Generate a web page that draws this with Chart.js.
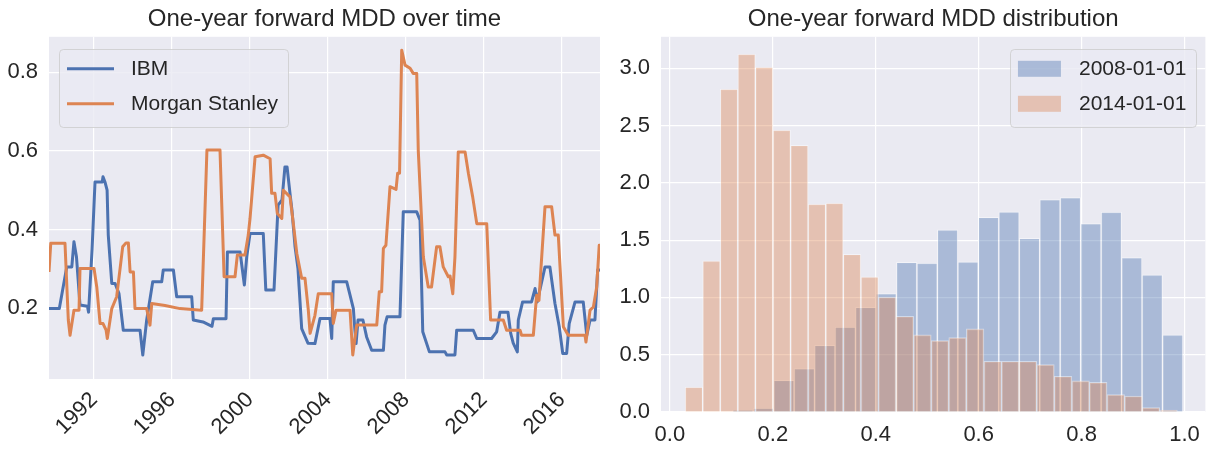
<!DOCTYPE html>
<html lang="en">

<head>
    <meta charset="UTF-8">
    <title>One-year forward MDD</title>
    <script src="https://cdn.jsdelivr.net/npm/chart.js@4.4.1/dist/chart.umd.min.js"></script>
    <style>
        body { margin: 0; background: #fff; }
        .panel { position: absolute; top: 0; height: 449px; }
        #left { left: 0; width: 610px; }
        #right { left: 610px; width: 600px; }
    </style>
</head>

<body>
    <div class="panel" id="left"><canvas id="mddTime"></canvas></div>
    <div class="panel" id="right"><canvas id="mddHist"></canvas></div>

    <script>
    // ---- data ----
    // left: one-year forward MDD, x in decimal years
    var IBM_YEARS = [1989.69, 1990.22, 1990.60, 1990.86, 1990.97, 1991.10, 1991.28, 1991.66, 1991.72, 1991.90,
        1992.05, 1992.42, 1992.46, 1992.56, 1992.67, 1992.73, 1992.91, 1993.08, 1993.28, 1993.50,
        1994.36, 1994.50, 1994.70, 1995.01, 1995.47, 1995.55, 1996.07, 1996.24, 1997.01, 1997.09,
        1997.59, 1998.05, 1998.12, 1998.77, 1998.84, 1999.49, 1999.71, 1999.83, 2000.00, 2000.68,
        2000.81, 2001.23, 2001.44, 2001.64, 2001.79, 2001.90, 2002.05, 2002.15, 2002.31, 2002.46,
        2002.65, 2002.97, 2003.33, 2003.59, 2004.10, 2004.19, 2004.27, 2004.96, 2005.13, 2005.30,
        2005.38, 2005.44, 2005.54, 2005.79, 2005.98, 2006.24, 2006.84, 2006.92, 2007.03, 2007.69,
        2007.86, 2008.55, 2008.72, 2008.86, 2009.20, 2010.00, 2010.09, 2010.51, 2010.60, 2011.45,
        2011.63, 2012.39, 2012.65, 2012.82, 2013.23, 2013.37, 2013.50, 2013.71, 2013.76, 2013.98,
        2014.44, 2014.62, 2014.73, 2015.13, 2015.38, 2015.64, 2015.86, 2016.04, 2016.24, 2016.37,
        2016.67, 2017.09, 2017.27, 2017.44, 2017.69, 2017.83, 2017.95];
    var IBM_MDD = [0.199, 0.199, 0.305, 0.305, 0.369, 0.330, 0.208, 0.205, 0.190, 0.350,
        0.521, 0.521, 0.534, 0.521, 0.500, 0.386, 0.263, 0.263, 0.237, 0.144,
        0.144, 0.081, 0.170, 0.267, 0.267, 0.297, 0.297, 0.229, 0.229, 0.170,
        0.165, 0.154, 0.173, 0.173, 0.343, 0.343, 0.259, 0.330, 0.390, 0.390,
        0.246, 0.246, 0.462, 0.475, 0.559, 0.559, 0.492, 0.450, 0.356, 0.300,
        0.148, 0.111, 0.110, 0.174, 0.174, 0.123, 0.267, 0.267, 0.233, 0.199,
        0.144, 0.110, 0.170, 0.170, 0.127, 0.093, 0.093, 0.157, 0.178, 0.178,
        0.445, 0.445, 0.424, 0.140, 0.089, 0.089, 0.081, 0.081, 0.144, 0.144,
        0.123, 0.123, 0.140, 0.190, 0.190, 0.136, 0.111, 0.089, 0.170, 0.216,
        0.216, 0.250, 0.216, 0.305, 0.305, 0.212, 0.153, 0.085, 0.085, 0.161,
        0.216, 0.216, 0.131, 0.170, 0.170, 0.297, 0.297];

    var MS_YEARS = [1989.69, 1989.78, 1990.51, 1990.68, 1990.77, 1990.97, 1991.23, 1991.28, 1992.00, 1992.14,
        1992.31, 1992.46, 1992.62, 1992.68, 1992.91, 1993.16, 1993.47, 1993.64, 1993.76, 1993.85,
        1994.02, 1994.10, 1994.70, 1994.87, 1994.96, 1995.64, 1996.41, 1997.52, 1997.69, 1997.79,
        1998.46, 1998.56, 1998.67, 1999.23, 1999.35, 1999.74, 1999.91, 2000.00, 2000.26, 2000.68,
        2001.03, 2001.11, 2001.28, 2001.40, 2001.63, 2001.71, 2002.05, 2002.21, 2002.40, 2002.65,
        2002.82, 2002.99, 2003.08, 2003.33, 2003.50, 2004.19, 2004.27, 2004.41, 2005.13, 2005.27,
        2005.47, 2006.50, 2006.63, 2006.75, 2006.84, 2006.97, 2007.18, 2007.49, 2007.57, 2007.67,
        2007.78, 2007.95, 2008.21, 2008.37, 2008.55, 2008.63, 2008.89, 2009.14, 2009.31, 2009.57,
        2009.74, 2009.91, 2010.17, 2010.26, 2010.40, 2010.51, 2010.68, 2011.03, 2011.20, 2011.42,
        2011.63, 2012.14, 2012.34, 2012.99, 2013.16, 2013.85, 2013.93, 2014.53, 2014.70, 2014.82,
        2014.92, 2015.13, 2015.47, 2015.64, 2015.81, 2016.07, 2016.32, 2017.18, 2017.23, 2017.44,
        2017.61, 2017.78, 2017.91, 2017.95];
    var MS_MDD = [0.292, 0.365, 0.365, 0.170, 0.131, 0.195, 0.195, 0.301, 0.301, 0.254,
        0.161, 0.161, 0.144, 0.123, 0.199, 0.229, 0.356, 0.366, 0.366, 0.292,
        0.292, 0.199, 0.199, 0.157, 0.212, 0.207, 0.199, 0.195, 0.450, 0.602,
        0.602, 0.450, 0.280, 0.280, 0.335, 0.335, 0.386, 0.428, 0.585, 0.589,
        0.580, 0.492, 0.492, 0.441, 0.428, 0.500, 0.483, 0.420, 0.339, 0.276,
        0.276, 0.195, 0.136, 0.182, 0.237, 0.237, 0.161, 0.195, 0.195, 0.081,
        0.157, 0.157, 0.242, 0.242, 0.352, 0.360, 0.509, 0.502, 0.543, 0.543,
        0.856, 0.818, 0.810, 0.797, 0.797, 0.600, 0.330, 0.254, 0.254, 0.356,
        0.356, 0.305, 0.280, 0.282, 0.237, 0.330, 0.597, 0.597, 0.543, 0.483,
        0.415, 0.415, 0.170, 0.170, 0.144, 0.144, 0.131, 0.131, 0.233, 0.220,
        0.300, 0.458, 0.458, 0.386, 0.386, 0.153, 0.131, 0.131, 0.114, 0.195,
        0.203, 0.254, 0.360, 0.360];

    var YEAR_TICKS = [1992, 1996, 2000, 2004, 2008, 2012, 2016];
    var MDD_TICKS = [0.2, 0.4, 0.6, 0.8];

    // right: histogram densities, equal-width bins over [lo, hi]
    var RANGE_2008 = [0.122, 0.997];
    var DENSITY_2008 = [0.015, 0.035, 0.277, 0.379, 0.583, 0.742, 0.914, 1.034, 1.307, 1.299, 1.590,
        1.310, 1.700, 1.747, 1.517, 1.855, 1.872, 1.645, 1.744, 1.348, 1.197, 0.673];
    var RANGE_2014 = [0.0295, 0.986];
    var DENSITY_2014 = [0.218, 1.319, 2.818, 3.124, 3.011, 2.460, 2.327, 1.814, 1.823, 1.377, 1.179, 1.004,
        0.836, 0.673, 0.623, 0.649, 0.725, 0.443, 0.443, 0.443, 0.414, 0.312, 0.271, 0.259, 0.152,
        0.140, 0.038, 0.017];

    var MDD_BIN_TICKS = [0, 0.2, 0.4, 0.6, 0.8, 1.0];
    var DENSITY_TICKS = [0, 0.5, 1.0, 1.5, 2.0, 2.5, 3.0];

    // ---- helpers ----
    var FONT = '"Liberation Sans", Arial, sans-serif';
    var INK = '#262626';
    Chart.defaults.font.family = FONT;
    Chart.defaults.color = INK;

    function pairs(xs, ys) {
        return xs.map(function(x, i) { return { x: x, y: ys[i] }; });
    }

    function bins(range, heights) {
        var w = (range[1] - range[0]) / heights.length;
        return heights.map(function(h, i) { return { x: range[0] + (i + 0.5) * w, y: h }; });
    }

    function fixedTicks(list) {
        return function(scale) {
            scale.ticks = list.map(function(v) { return { value: v }; });
        };
    }

    // lavender plot face, like seaborn darkgrid
    var plotBg = {
        id: 'plotBg',
        beforeDraw: function(chart) {
            var a = chart.chartArea, ctx = chart.ctx;
            ctx.save();
            ctx.fillStyle = '#EAEAF2';
            ctx.fillRect(a.left, a.top, a.width, a.height);
            ctx.restore();
        }
    };

    // legend drawn in a rounded box inside the plot
    var boxLegend = {
        id: 'boxLegend',
        afterDatasetsDraw: function(chart, args, opts) {
            var ctx = chart.ctx, a = chart.chartArea;
            var sets = chart.data.datasets;
            ctx.save();
            ctx.font = '21px ' + FONT;
            var textW = Math.max.apply(null, sets.map(function(d) { return ctx.measureText(d.label).width; }));
            var w = 8 + opts.keyW + opts.gap + textW + 10;
            var h = 78;
            var x = opts.side === 'left' ? a.left + 10 : a.right - 9 - w;
            var y = a.top + 12;
            ctx.beginPath();
            ctx.roundRect(Math.round(x) + 0.5, Math.round(y) + 0.5, Math.round(w), h, 4);
            ctx.fillStyle = 'rgba(234,234,242,0.8)';
            ctx.fill();
            ctx.strokeStyle = 'rgba(204,204,204,0.8)';
            ctx.lineWidth = 1;
            ctx.stroke();
            sets.forEach(function(d, i) {
                var cy = y + 20 + i * 35;
                var kx = x + 8;
                if (opts.kind === 'line') {
                    ctx.beginPath();
                    ctx.moveTo(kx, cy);
                    ctx.lineTo(kx + opts.keyW, cy);
                    ctx.strokeStyle = d.borderColor;
                    ctx.lineWidth = 3;
                    ctx.stroke();
                } else {
                    ctx.fillStyle = d.backgroundColor;
                    ctx.fillRect(kx, cy - 8, opts.keyW, 16);
                }
                ctx.fillStyle = INK;
                ctx.textBaseline = 'middle';
                ctx.fillText(d.label, kx + opts.keyW + opts.gap, cy);
            });
            ctx.restore();
        }
    };

    var gridStyle = { color: '#ffffff', lineWidth: 1.2, drawTicks: false };

    // ---- left: MDD over time ----
    new Chart(document.getElementById('mddTime'), {
        type: 'line',
        data: {
            datasets: [{
                    label: 'IBM',
                    data: pairs(IBM_YEARS, IBM_MDD),
                    borderColor: '#4C72B0',
                    borderWidth: 3,
                    borderJoinStyle: 'round',
                    pointRadius: 0,
                    order: 1
                },
                {
                    label: 'Morgan Stanley',
                    data: pairs(MS_YEARS, MS_MDD),
                    borderColor: '#DD8452',
                    borderWidth: 3,
                    borderJoinStyle: 'round',
                    pointRadius: 0,
                    order: 0
                }
            ]
        },
        options: {
            responsive: true,
            maintainAspectRatio: false,
            animation: false,
            layout: { padding: { right: 10 } },
            plugins: {
                legend: { display: false },
                tooltip: { enabled: false },
                title: {
                    display: true,
                    text: 'One-year forward MDD over time',
                    fullSize: false,
                    font: { size: 24, weight: 'normal' },
                    padding: { top: 5, bottom: 3 }
                },
                boxLegend: { side: 'left', kind: 'line', keyW: 47, gap: 17 }
            },
            scales: {
                x: {
                    type: 'linear',
                    min: 1989.69,
                    max: 2017.95,
                    afterBuildTicks: fixedTicks(YEAR_TICKS),
                    afterFit: function(s) { s.height = 70; },
                    grid: gridStyle,
                    border: { display: false },
                    ticks: {
                        font: { size: 22 },
                        minRotation: 45,
                        maxRotation: 45,
                        autoSkip: false,
                        padding: 8,
                        callback: function(v) { return String(v); }
                    }
                },
                y: {
                    min: 0.02,
                    max: 0.89,
                    afterBuildTicks: fixedTicks(MDD_TICKS),
                    afterFit: function(s) { s.width = 49; },
                    grid: gridStyle,
                    border: { display: false },
                    ticks: {
                        font: { size: 22 },
                        padding: 11,
                        callback: function(v) { return v.toFixed(1); }
                    }
                }
            }
        },
        plugins: [plotBg, boxLegend]
    });

    // ---- right: MDD distribution ----
    var histBar = {
        grouped: false,
        barPercentage: 1,
        categoryPercentage: 1,
        borderWidth: 1,
        borderColor: 'rgba(255,255,255,0.45)',
        borderSkipped: 'bottom'
    };

    new Chart(document.getElementById('mddHist'), {
        type: 'bar',
        data: {
            datasets: [
                Object.assign({
                    label: '2008-01-01',
                    data: bins(RANGE_2008, DENSITY_2008),
                    xAxisID: 'x',
                    backgroundColor: 'rgba(76,114,176,0.4)',
                    order: 1
                }, histBar),
                Object.assign({
                    label: '2014-01-01',
                    data: bins(RANGE_2014, DENSITY_2014),
                    xAxisID: 'x2',
                    backgroundColor: 'rgba(221,132,82,0.4)',
                    order: 0
                }, histBar)
            ]
        },
        options: {
            responsive: true,
            maintainAspectRatio: false,
            animation: false,
            plugins: {
                legend: { display: false },
                tooltip: { enabled: false },
                title: {
                    display: true,
                    text: 'One-year forward MDD distribution',
                    fullSize: false,
                    font: { size: 24, weight: 'normal' },
                    padding: { top: 5, bottom: 3 }
                },
                boxLegend: { side: 'right', kind: 'patch', keyW: 43, gap: 18 }
            },
            scales: {
                x: {
                    type: 'linear',
                    min: -0.0173,
                    max: 1.0405,
                    offset: false,
                    afterBuildTicks: fixedTicks(MDD_BIN_TICKS),
                    afterFit: function(s) { s.height = 37; },
                    grid: { color: '#ffffff', lineWidth: 1.2, drawTicks: false, offset: false },
                    border: { display: false },
                    ticks: {
                        font: { size: 22 },
                        padding: 10,
                        maxRotation: 0,
                        callback: function(v) { return v.toFixed(1); }
                    }
                },
                x2: {
                    type: 'linear',
                    display: false,
                    min: -0.0173,
                    max: 1.0405,
                    offset: false,
                    afterBuildTicks: fixedTicks(MDD_BIN_TICKS)
                },
                y: {
                    min: 0,
                    max: 3.275,
                    afterBuildTicks: fixedTicks(DENSITY_TICKS),
                    afterFit: function(s) { s.width = 51; },
                    grid: gridStyle,
                    border: { display: false },
                    ticks: {
                        font: { size: 22 },
                        padding: 11,
                        callback: function(v) { return v.toFixed(1); }
                    }
                }
            }
        },
        plugins: [plotBg, boxLegend]
    });
    </script>
</body>

</html>
